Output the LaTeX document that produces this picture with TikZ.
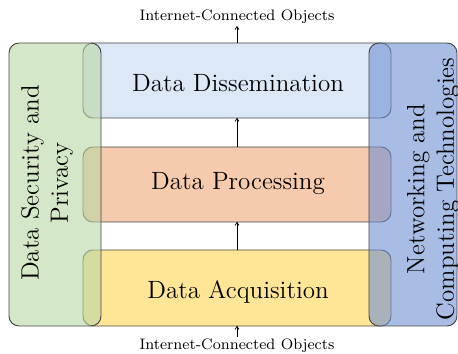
\documentclass[tikz,border=0pt]{standalone}
\usetikzlibrary{arrows.meta}
\definecolor{dissblue}{RGB}{220,232,245}
\definecolor{procsalmon}{RGB}{246,202,172}
\definecolor{acqyellow}{RGB}{255,229,150}
\definecolor{secgreen}{RGB}{185,215,165}
\definecolor{netblue}{RGB}{112,145,210}
\definecolor{edgegray}{RGB}{70,70,70}
\tikzset{
  layerbox/.style={draw=edgegray, line width=0.5pt, rounded corners=5.3pt},
  sidebox/.style={draw=edgegray, line width=0.5pt, rounded corners=5.3pt, fill opacity=0.6, text opacity=1},
  flow/.style={-{To[length=2pt,width=2.4pt]}, line width=0.4pt},
  mainlabel/.style={font=\fontsize{13.2}{15.5}\selectfont},
}
\begin{document}
\begin{tikzpicture}[x=0.528pt, y=-0.528pt]
\useasboundingbox (0,0) rectangle (458,354);

% stacked processing layers
\draw[layerbox, fill=dissblue] (83,43) rectangle (391,118);
\draw[layerbox, fill=procsalmon] (83,147) rectangle (391,222);
\draw[layerbox, fill=acqyellow] (83,250) rectangle (391,326);
\node[mainlabel] (dis) at (238,83) {Data Dissemination};
\node[mainlabel] (proc) at (238,184) {Data Processing};
\node[mainlabel] (acq) at (238,292) {Data Acquisition};
\coordinate (disN) at (237,43);
\coordinate (disS) at (237,118);
\coordinate (procN) at (237,147);
\coordinate (procS) at (237,222);
\coordinate (acqN) at (237,250);
\coordinate (acqS) at (237,326);

% cross-cutting concerns on both sides
\draw[sidebox, fill=secgreen] (9,43) rectangle (101,326);
\draw[sidebox, fill=netblue] (369,43) rectangle (457,326);
\node[mainlabel, rotate=90, align=center] (sec) at (47,183) {Data Security and\\Privacy};
\node[mainlabel, rotate=90, align=center] (net) at (433,189) {Networking and\\Computing Technologies};

% objects at both ends
\node[font=\footnotesize, inner sep=1pt] (objtop) at (237,17) {Internet-Connected Objects};
\node[font=\footnotesize, inner sep=1pt] (objbot) at (237,346) {Internet-Connected Objects};

% data flow
\draw[flow] (objbot.north) -- (acqS);
\draw[flow] (acqN) -- (procS);
\draw[flow] (procN) -- (disS);
\draw[flow] (disN) -- (objtop.south);
\end{tikzpicture}
\end{document}
